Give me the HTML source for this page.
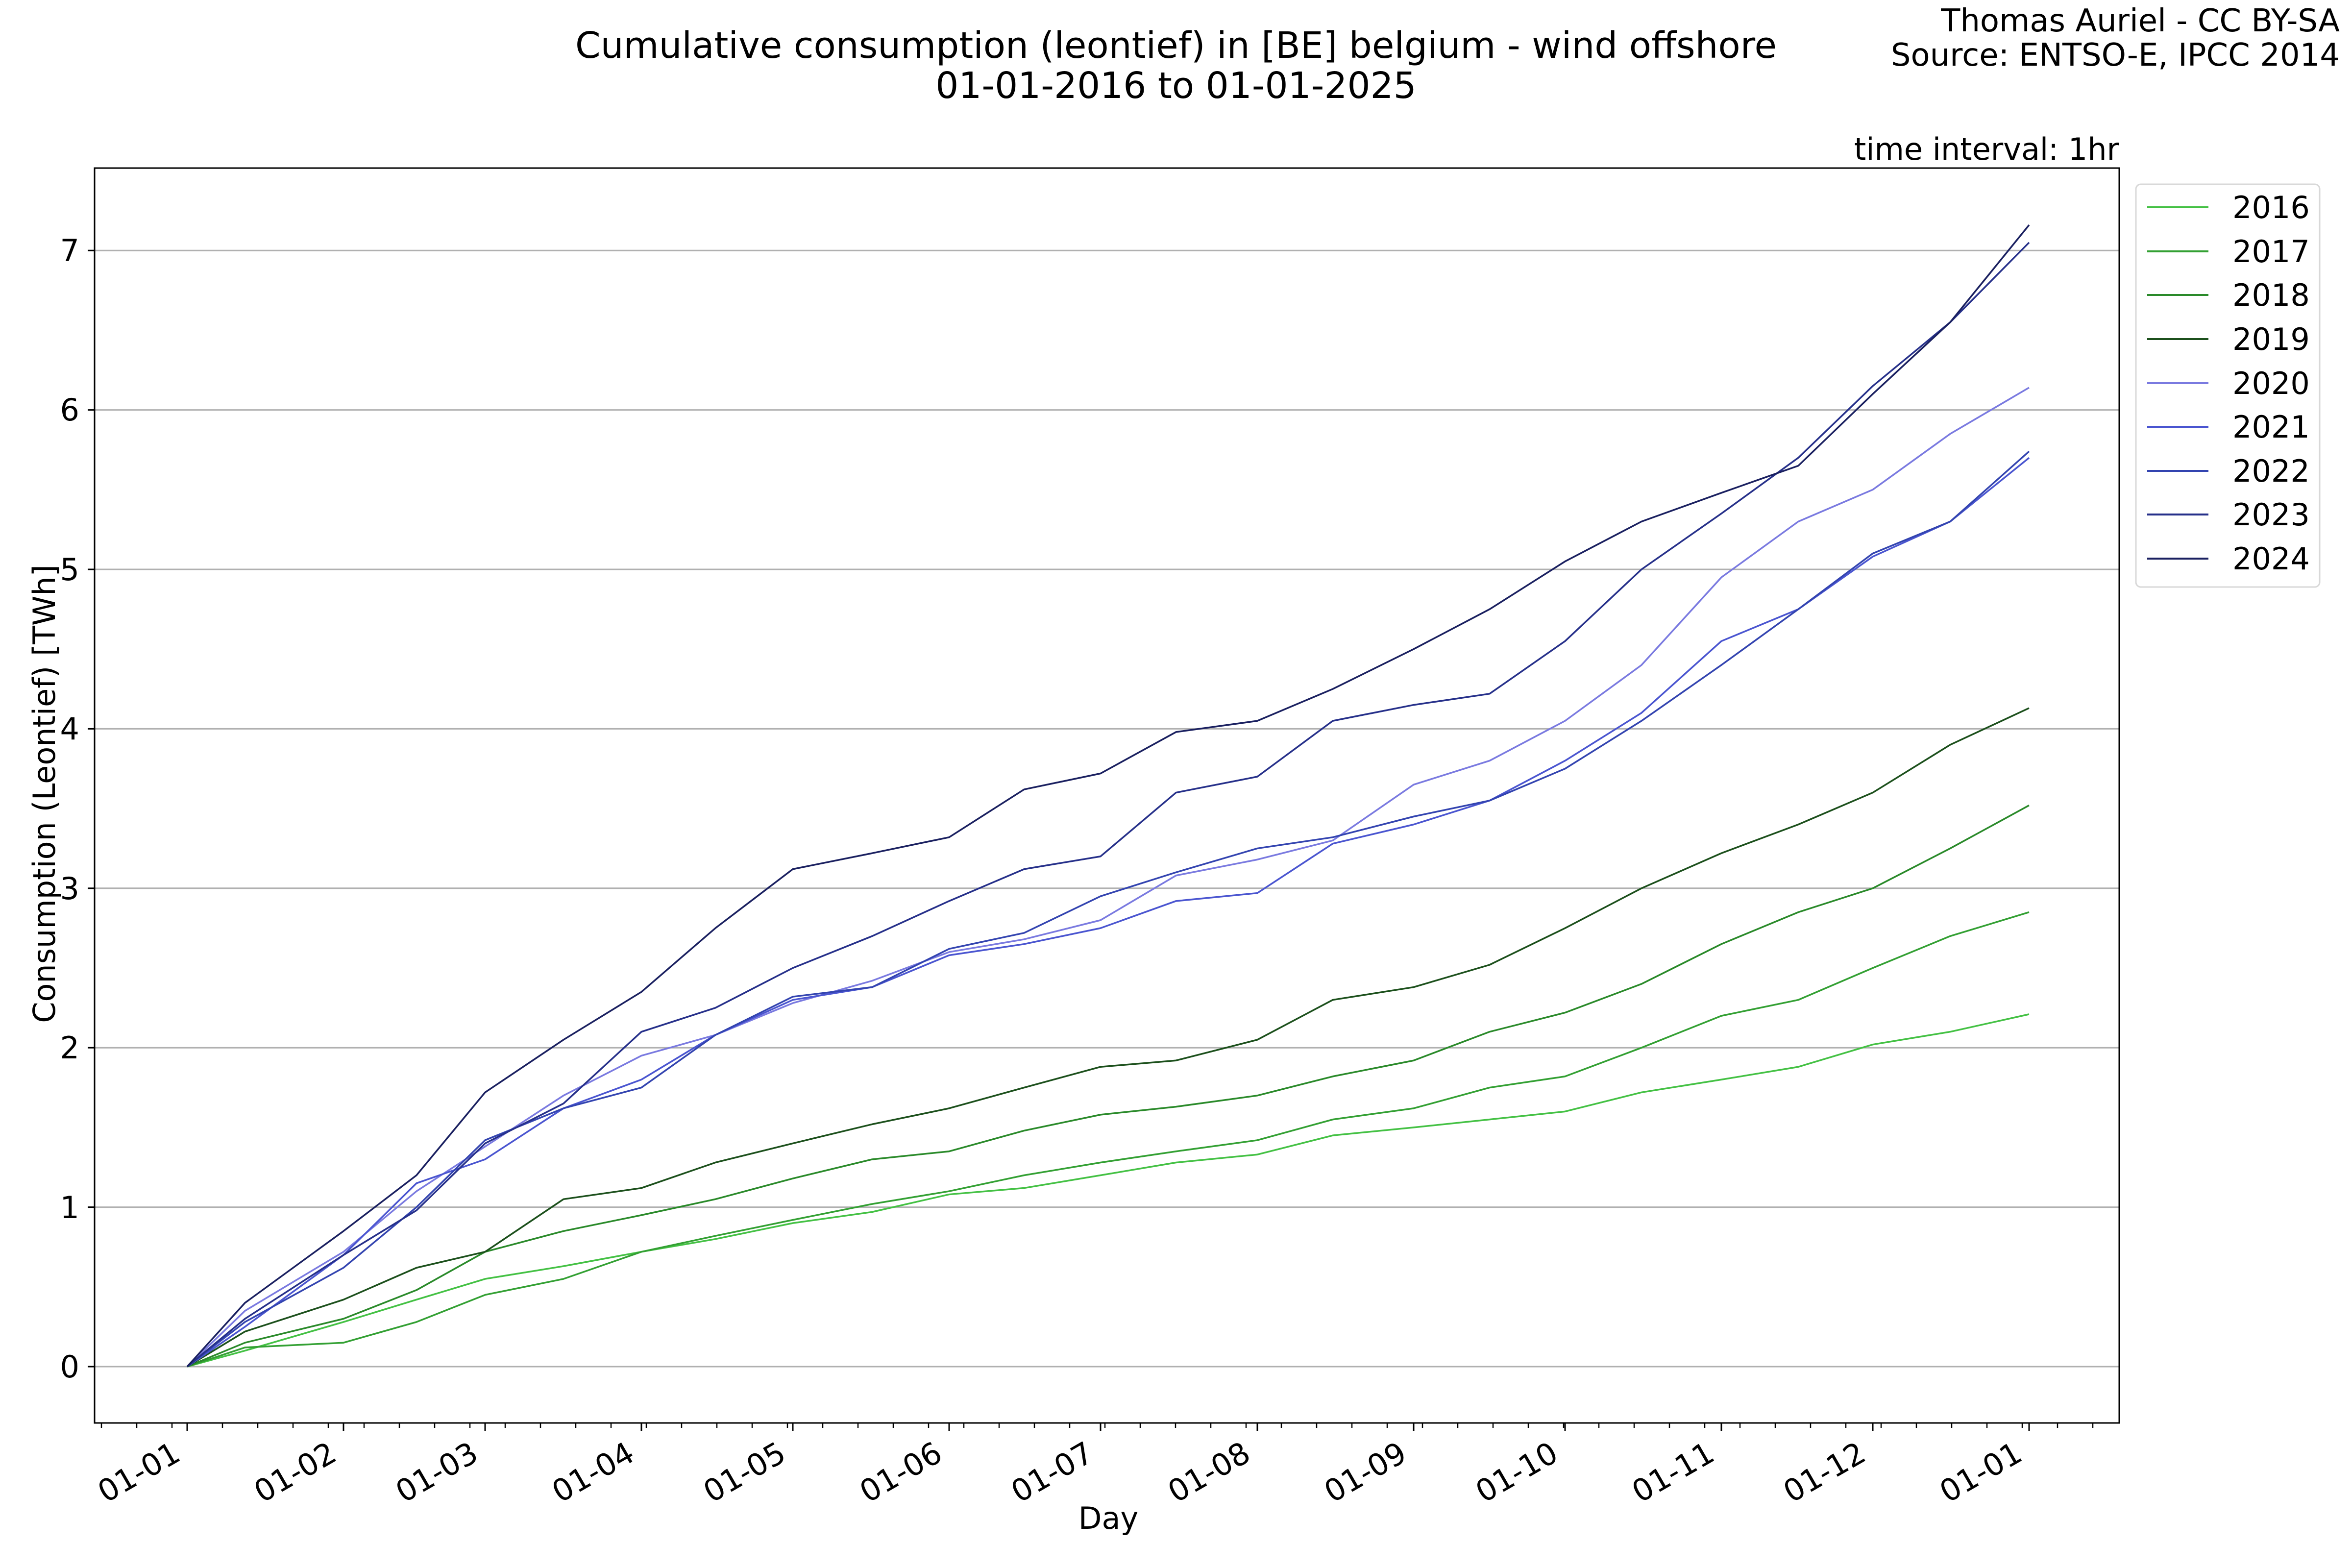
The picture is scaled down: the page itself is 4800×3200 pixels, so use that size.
<!DOCTYPE html>
<html><head><meta charset="utf-8"><style>
html,body{margin:0;padding:0;background:#fff}
svg{display:block}
text{font-family:"DejaVu Sans","Liberation Sans",sans-serif;fill:#000}
</style></head><body>
<svg width="4800" height="3200" viewBox="0 0 4800 3200" xmlns="http://www.w3.org/2000/svg">
<rect width="4800" height="3200" fill="#fff"/>
<text x="2400" y="118" font-size="74" text-anchor="middle">Cumulative consumption (leontief) in [BE] belgium - wind offshore</text>
<text x="2400" y="200" font-size="74" text-anchor="middle">01-01-2016 to 01-01-2025</text>
<text x="4775" y="64" font-size="64" text-anchor="end">Thomas Auriel - CC BY-SA</text>
<text x="4775" y="134" font-size="64" text-anchor="end">Source: ENTSO-E, IPCC 2014</text>
<text x="4325" y="326" font-size="62" text-anchor="end">time interval: 1hr</text>
<g stroke="#b0b0b0" stroke-width="3">
<line x1="193" x2="4325" y1="2789" y2="2789"/><line x1="193" x2="4325" y1="2463.6" y2="2463.6"/>
<line x1="193" x2="4325" y1="2138.2" y2="2138.2"/><line x1="193" x2="4325" y1="1812.8" y2="1812.8"/>
<line x1="193" x2="4325" y1="1487.4" y2="1487.4"/><line x1="193" x2="4325" y1="1162" y2="1162"/>
<line x1="193" x2="4325" y1="836.6" y2="836.6"/><line x1="193" x2="4325" y1="511.2" y2="511.2"/>
</g>
<g font-size="62" text-anchor="end">
<text x="162" y="2811">0</text><text x="162" y="2486">1</text><text x="162" y="2160">2</text>
<text x="162" y="1835">3</text><text x="162" y="1509">4</text><text x="162" y="1184">5</text>
<text x="162" y="858">6</text><text x="162" y="533">7</text>
</g>
<g stroke="#000" stroke-width="3">
<line x1="179" x2="193" y1="2789" y2="2789"/><line x1="179" x2="193" y1="2463.6" y2="2463.6"/>
<line x1="179" x2="193" y1="2138.2" y2="2138.2"/><line x1="179" x2="193" y1="1812.8" y2="1812.8"/>
<line x1="179" x2="193" y1="1487.4" y2="1487.4"/><line x1="179" x2="193" y1="1162" y2="1162"/>
<line x1="179" x2="193" y1="836.6" y2="836.6"/><line x1="179" x2="193" y1="511.2" y2="511.2"/>
</g>
<g stroke="#000" stroke-width="2.5">
<line x1="207" x2="207" y1="2904" y2="2914"/><line x1="279" x2="279" y1="2904" y2="2914"/><line x1="351" x2="351" y1="2904" y2="2914"/>
<line x1="454" x2="454" y1="2904" y2="2914"/><line x1="526" x2="526" y1="2904" y2="2914"/><line x1="598" x2="598" y1="2904" y2="2914"/><line x1="670" x2="670" y1="2904" y2="2914"/>
<line x1="743" x2="743" y1="2904" y2="2914"/><line x1="815" x2="815" y1="2904" y2="2914"/><line x1="887" x2="887" y1="2904" y2="2914"/><line x1="959" x2="959" y1="2904" y2="2914"/>
<line x1="1031" x2="1031" y1="2904" y2="2914"/><line x1="1103" x2="1103" y1="2904" y2="2914"/><line x1="1175" x2="1175" y1="2904" y2="2914"/><line x1="1247" x2="1247" y1="2904" y2="2914"/>
<line x1="1319" x2="1319" y1="2904" y2="2914"/><line x1="1391" x2="1391" y1="2904" y2="2914"/><line x1="1463" x2="1463" y1="2904" y2="2914"/><line x1="1535" x2="1535" y1="2904" y2="2914"/>
<line x1="1607" x2="1607" y1="2904" y2="2914"/><line x1="1679" x2="1679" y1="2904" y2="2914"/><line x1="1751" x2="1751" y1="2904" y2="2914"/><line x1="1823" x2="1823" y1="2904" y2="2914"/>
<line x1="1895" x2="1895" y1="2904" y2="2914"/><line x1="1967" x2="1967" y1="2904" y2="2914"/><line x1="2039" x2="2039" y1="2904" y2="2914"/><line x1="2111" x2="2111" y1="2904" y2="2914"/>
<line x1="2183" x2="2183" y1="2904" y2="2914"/><line x1="2255" x2="2255" y1="2904" y2="2914"/><line x1="2327" x2="2327" y1="2904" y2="2914"/><line x1="2399" x2="2399" y1="2904" y2="2914"/>
<line x1="2471" x2="2471" y1="2904" y2="2914"/><line x1="2543" x2="2543" y1="2904" y2="2914"/><line x1="2615" x2="2615" y1="2904" y2="2914"/><line x1="2687" x2="2687" y1="2904" y2="2914"/>
<line x1="2759" x2="2759" y1="2904" y2="2914"/><line x1="2831" x2="2831" y1="2904" y2="2914"/><line x1="2903" x2="2903" y1="2904" y2="2914"/><line x1="2975" x2="2975" y1="2904" y2="2914"/>
<line x1="3047" x2="3047" y1="2904" y2="2914"/><line x1="3119" x2="3119" y1="2904" y2="2914"/><line x1="3191" x2="3191" y1="2904" y2="2914"/><line x1="3263" x2="3263" y1="2904" y2="2914"/>
<line x1="3335" x2="3335" y1="2904" y2="2914"/><line x1="3407" x2="3407" y1="2904" y2="2914"/><line x1="3479" x2="3479" y1="2904" y2="2914"/><line x1="3551" x2="3551" y1="2904" y2="2914"/>
<line x1="3623" x2="3623" y1="2904" y2="2914"/><line x1="3695" x2="3695" y1="2904" y2="2914"/><line x1="3767" x2="3767" y1="2904" y2="2914"/><line x1="3839" x2="3839" y1="2904" y2="2914"/>
<line x1="3911" x2="3911" y1="2904" y2="2914"/><line x1="3983" x2="3983" y1="2904" y2="2914"/><line x1="4055" x2="4055" y1="2904" y2="2914"/><line x1="4127" x2="4127" y1="2904" y2="2914"/>
<line x1="4199" x2="4199" y1="2904" y2="2914"/><line x1="4271" x2="4271" y1="2904" y2="2914"/>
</g>
<g stroke="#000" stroke-width="3">
<line x1="382" x2="382" y1="2904" y2="2920"/><line x1="701" x2="701" y1="2904" y2="2920"/><line x1="990" x2="990" y1="2904" y2="2920"/>
<line x1="1309" x2="1309" y1="2904" y2="2920"/><line x1="1618" x2="1618" y1="2904" y2="2920"/><line x1="1937" x2="1937" y1="2904" y2="2920"/>
<line x1="2246" x2="2246" y1="2904" y2="2920"/><line x1="2566" x2="2566" y1="2904" y2="2920"/><line x1="2885" x2="2885" y1="2904" y2="2920"/>
<line x1="3194" x2="3194" y1="2904" y2="2920"/><line x1="3513" x2="3513" y1="2904" y2="2920"/><line x1="3822" x2="3822" y1="2904" y2="2920"/>
<line x1="4141" x2="4141" y1="2904" y2="2920"/>
</g>
<g font-size="62" text-anchor="end">
<text transform="translate(372,2978) rotate(-30)">01-01</text>
<text transform="translate(691,2978) rotate(-30)">01-02</text>
<text transform="translate(980,2978) rotate(-30)">01-03</text>
<text transform="translate(1299,2978) rotate(-30)">01-04</text>
<text transform="translate(1608,2978) rotate(-30)">01-05</text>
<text transform="translate(1927,2978) rotate(-30)">01-06</text>
<text transform="translate(2236,2978) rotate(-30)">01-07</text>
<text transform="translate(2556,2978) rotate(-30)">01-08</text>
<text transform="translate(2875,2978) rotate(-30)">01-09</text>
<text transform="translate(3184,2978) rotate(-30)">01-10</text>
<text transform="translate(3503,2978) rotate(-30)">01-11</text>
<text transform="translate(3812,2978) rotate(-30)">01-12</text>
<text transform="translate(4131,2978) rotate(-30)">01-01</text>
</g>
<text x="2262" y="3120" font-size="62" text-anchor="middle">Day</text>
<text transform="translate(112,1620) rotate(-90)" font-size="62" text-anchor="middle">Consumption (Leontief) [TWh]</text>
<g transform="translate(0,2789) scale(1,-325.4)" fill="none" stroke-width="3.5" stroke-linejoin="round">
<polyline vector-effect="non-scaling-stroke" stroke="#44c144" points="382,0 500,0.10 701,0.28 850,0.42 990,0.55 1150,0.63 1309,0.72 1460,0.80 1618,0.90 1780,0.97 1937,1.08 2090,1.12 2246,1.20 2400,1.28 2566,1.33 2720,1.45 2885,1.50 3040,1.55 3194,1.60 3350,1.72 3513,1.80 3670,1.88 3822,2.02 3980,2.10 4141,2.21"/>
<polyline vector-effect="non-scaling-stroke" stroke="#33a033" points="382,0 500,0.12 701,0.15 850,0.28 990,0.45 1150,0.55 1309,0.72 1460,0.82 1618,0.92 1780,1.02 1937,1.10 2090,1.20 2246,1.28 2400,1.35 2566,1.42 2720,1.55 2885,1.62 3040,1.75 3194,1.82 3350,2.00 3513,2.20 3670,2.30 3822,2.50 3980,2.70 4141,2.85"/>
<polyline vector-effect="non-scaling-stroke" stroke="#2a8a2a" points="382,0 500,0.15 701,0.30 850,0.48 990,0.72 1150,0.85 1309,0.95 1460,1.05 1618,1.18 1780,1.30 1937,1.35 2090,1.48 2246,1.58 2400,1.63 2566,1.70 2720,1.82 2885,1.92 3040,2.10 3194,2.22 3350,2.40 3513,2.65 3670,2.85 3822,3.00 3980,3.25 4141,3.52"/>
<polyline vector-effect="non-scaling-stroke" stroke="#1c501c" points="382,0 500,0.22 701,0.42 850,0.62 990,0.72 1150,1.05 1309,1.12 1460,1.28 1618,1.40 1780,1.52 1937,1.62 2090,1.75 2246,1.88 2400,1.92 2566,2.05 2720,2.30 2885,2.38 3040,2.52 3194,2.75 3350,3.00 3513,3.22 3670,3.40 3822,3.60 3980,3.90 4141,4.13"/>
<polyline vector-effect="non-scaling-stroke" stroke="#7a7ae0" points="382,0 500,0.35 701,0.72 850,1.10 990,1.38 1150,1.70 1309,1.95 1460,2.08 1618,2.28 1780,2.42 1937,2.60 2090,2.68 2246,2.80 2400,3.08 2566,3.18 2720,3.30 2885,3.65 3040,3.80 3194,4.05 3350,4.40 3513,4.95 3670,5.30 3822,5.50 3980,5.85 4141,6.14"/>
<polyline vector-effect="non-scaling-stroke" stroke="#4a55d0" points="382,0 500,0.25 701,0.70 850,1.15 990,1.30 1150,1.62 1309,1.80 1460,2.08 1618,2.30 1780,2.38 1937,2.58 2090,2.65 2246,2.75 2400,2.92 2566,2.97 2720,3.28 2885,3.40 3040,3.55 3194,3.80 3350,4.10 3513,4.55 3670,4.75 3822,5.08 3980,5.30 4141,5.70"/>
<polyline vector-effect="non-scaling-stroke" stroke="#3344b0" points="382,0 500,0.28 701,0.62 850,1.00 990,1.42 1150,1.62 1309,1.75 1460,2.08 1618,2.32 1780,2.38 1937,2.62 2090,2.72 2246,2.95 2400,3.10 2566,3.25 2720,3.32 2885,3.45 3040,3.55 3194,3.75 3350,4.05 3513,4.40 3670,4.75 3822,5.10 3980,5.30 4141,5.74"/>
<polyline vector-effect="non-scaling-stroke" stroke="#26308a" points="382,0 500,0.30 701,0.70 850,0.98 990,1.40 1150,1.65 1309,2.10 1460,2.25 1618,2.50 1780,2.70 1937,2.92 2090,3.12 2246,3.20 2400,3.60 2566,3.70 2720,4.05 2885,4.15 3040,4.22 3194,4.55 3350,5.00 3513,5.35 3670,5.70 3822,6.15 3980,6.55 4141,7.05"/>
<polyline vector-effect="non-scaling-stroke" stroke="#1a2060" points="382,0 500,0.40 701,0.85 850,1.20 990,1.72 1150,2.05 1309,2.35 1460,2.75 1618,3.12 1780,3.22 1937,3.32 2090,3.62 2246,3.72 2400,3.98 2566,4.05 2720,4.25 2885,4.50 3040,4.75 3194,5.05 3350,5.30 3513,5.48 3670,5.65 3822,6.10 3980,6.55 4141,7.16"/>
</g>
<rect x="193" y="343" width="4132" height="2561" fill="none" stroke="#000" stroke-width="3"/>
<rect x="4359" y="376" width="375" height="822" rx="10" fill="#fff" stroke="#d8d8d8" stroke-width="3"/>
<g stroke-width="4">
<line x1="4382" x2="4507" y1="423" y2="423" stroke="#44c144"/>
<line x1="4382" x2="4507" y1="513" y2="513" stroke="#33a033"/>
<line x1="4382" x2="4507" y1="602" y2="602" stroke="#2a8a2a"/>
<line x1="4382" x2="4507" y1="692" y2="692" stroke="#1c501c"/>
<line x1="4382" x2="4507" y1="782" y2="782" stroke="#7a7ae0"/>
<line x1="4382" x2="4507" y1="871" y2="871" stroke="#4a55d0"/>
<line x1="4382" x2="4507" y1="961" y2="961" stroke="#3344b0"/>
<line x1="4382" x2="4507" y1="1050" y2="1050" stroke="#26308a"/>
<line x1="4382" x2="4507" y1="1140" y2="1140" stroke="#1a2060"/>
</g>
<g font-size="62">
<text x="4556" y="445">2016</text><text x="4556" y="535">2017</text><text x="4556" y="624">2018</text>
<text x="4556" y="714">2019</text><text x="4556" y="804">2020</text><text x="4556" y="893">2021</text>
<text x="4556" y="983">2022</text><text x="4556" y="1072">2023</text><text x="4556" y="1162">2024</text>
</g>
</svg>
</body></html>
